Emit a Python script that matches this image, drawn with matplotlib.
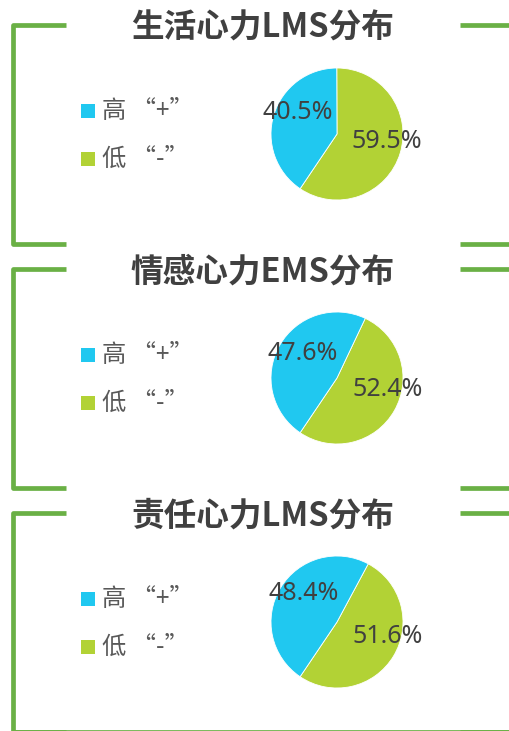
import matplotlib.pyplot as plt
from matplotlib.patches import Rectangle

TITLES = ["生活心力LMS分布", "情感心力EMS分布", "责任心力LMS分布"]
HIGH = [40.5, 47.6, 48.4]
LOW = [59.5, 52.4, 51.6]
LEGEND_LABELS = ["高 “+”", "低 “-”"]

W, H = 510, 731
PANEL_TOPS = [25, 269, 513]
PANEL_H = 218.5
PIE_CX, PIE_DY, PIE_R = 337, 109, 66
# label anchors in pie-radius units: (high, low)
LABEL_POS = [((-0.59, 0.32), (0.75, -0.11)),
             ((-0.52, 0.37), (0.77, -0.17)),
             ((-0.51, 0.43), (0.77, -0.22))]

BLUE = "#20C8F0"
GREEN = "#B2D235"
FRAME = "#6AB045"

plt.rcParams['font.family'] = ['Noto Sans CJK SC', 'DejaVu Sans']

fig = plt.figure(figsize=(W / 100, H / 100), dpi=100)
bg = fig.add_axes([0, 0, 1, 1])
bg.set_xlim(0, W)
bg.set_ylim(H, 0)
bg.axis("off")

line_kw = dict(color=FRAME, lw=3.4, solid_joinstyle="round", solid_capstyle="butt")

for i, top in enumerate(PANEL_TOPS):
    bottom = top + PANEL_H
    # left bracket
    bg.plot([66, 13, 13, 66], [top, top, bottom, bottom], **line_kw)
    # right bracket
    bg.plot([460, 511, 511, 460], [top, top, bottom, bottom], **line_kw)
    if i == len(PANEL_TOPS) - 1:
        bg.plot([13, 511], [bottom, bottom], **line_kw)

    bg.text(262.5, top + 3, TITLES[i], ha="center", va="center",
            fontsize=23.5, fontweight="bold", color="#404040")

    # legend
    for j, (lab, col) in enumerate(zip(LEGEND_LABELS, [BLUE, GREEN])):
        yc = top + 85.5 + j * 48
        bg.add_patch(Rectangle((81, yc - 7), 14, 14, color=col, lw=0))
        bg.text(102, yc, lab, ha="left", va="center", fontsize=17.5, color="#595959")

    cy = top + PIE_DY
    ax = fig.add_axes([(PIE_CX - PIE_R) / W, 1 - (cy + PIE_R) / H,
                       2 * PIE_R / W, 2 * PIE_R / H])
    ax.pie([LOW[i], HIGH[i]], colors=[GREEN, BLUE], startangle=-124,
           counterclock=True, radius=1,
           wedgeprops=dict(edgecolor="white", linewidth=0.6))
    ax.set_xlim(-1, 1)
    ax.set_ylim(-1, 1)
    ax.set_aspect("equal")
    ax.axis("off")
    for val, (lx, ly) in zip([HIGH[i], LOW[i]], LABEL_POS[i]):
        ax.text(lx, ly, f"{val:.1f}%", ha="center", va="center",
                fontsize=18, color="#404040", family=["Noto Sans", "DejaVu Sans"],
                clip_on=False)

fig.savefig("out.png", dpi=100)
